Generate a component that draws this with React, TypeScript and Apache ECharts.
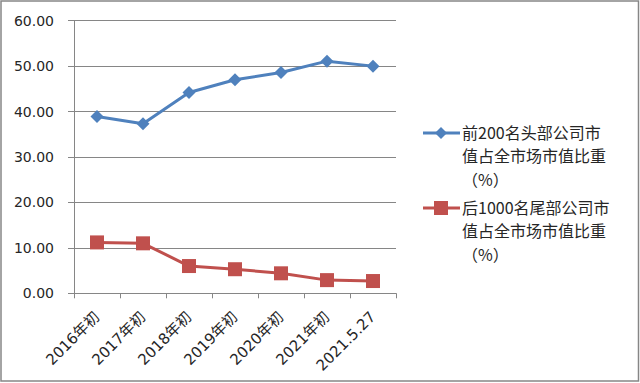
import React, { useEffect, useRef } from "react";
import * as echarts from "echarts";

const categories = ["2016年初", "2017年初", "2018年初", "2019年初", "2020年初", "2021年初", "2021.5.27"];
const headShare = [38.9, 37.3, 44.2, 47.0, 48.6, 51.1, 50.0];
const tailShare = [11.2, 11.0, 6.0, 5.3, 4.4, 2.9, 2.7];
const seriesNames = ["前200名头部公司市值占全市场市值比重（%）", "后1000名尾部公司市值占全市场市值比重（%）"];
const legendLines = [
  ["前200名头部公司市", "值占全市场市值比重", "（%）"],
  ["后1000名尾部公司市", "值占全市场市值比重", "（%）"],
];
const yTicks = [0, 10, 20, 30, 40, 50, 60];

const BLUE = "#4F81BD";
const RED = "#C0504D";
const GRID = "#868686";
const TEXT = "#262626";

export default function App() {
  const ref = useRef<HTMLDivElement>(null);
  useEffect(() => {
    if (!ref.current) return;
    const chart = echarts.init(ref.current, null, { renderer: "svg" });
    const legendGraphics: any[] = [];
    const legendTop = [133, 208];
    const colors = [BLUE, RED];
    const LH = 23.2;
    legendLines.forEach((lines, i) => {
      const y = legendTop[i];
      legendGraphics.push({
        type: "line",
        shape: { x1: 423, y1: y, x2: 460, y2: y },
        style: { stroke: colors[i], lineWidth: 3 },
      });
      if (i === 0) {
        legendGraphics.push({
          type: "polygon",
          shape: { points: [[441, y - 6], [447, y], [441, y + 6], [435, y]] },
          style: { fill: BLUE },
        });
      } else {
        legendGraphics.push({
          type: "rect",
          shape: { x: 434, y: y - 7, width: 14, height: 14 },
          style: { fill: RED },
        });
      }
      legendGraphics.push({
        type: "text",
        x: 462,
        y: y - LH / 2 - 0.8,
        style: {
          text: lines.join("\n"),
          fill: TEXT,
          font: '16px "Noto Sans CJK SC", sans-serif',
          lineHeight: LH,
          verticalAlign: "top",
          align: "left",
        },
      });
    });
    chart.setOption({
      animation: false,
      backgroundColor: "#fff",
      grid: { left: 74, right: 244, top: 20.7, bottom: 89.7, containLabel: false },
      xAxis: {
        type: "category",
        data: categories,
        boundaryGap: true,
        axisLine: { lineStyle: { color: GRID, width: 1 } },
        axisTick: { show: true, length: 5, lineStyle: { color: GRID } },
        axisLabel: {
          rotate: 45,
          margin: 21,
          color: TEXT,
          fontSize: 15,
          fontFamily: '"DejaVu Sans", "Noto Sans CJK SC", sans-serif',
        },
      },
      yAxis: {
        type: "value",
        min: 0,
        max: 60,
        interval: 10,
        axisLine: { show: true, lineStyle: { color: GRID } },
        axisTick: { show: true, length: 6, lineStyle: { color: GRID } },
        splitLine: { show: true, lineStyle: { color: GRID, width: 1 } },
        axisLabel: {
          margin: 20,
          color: TEXT,
          fontSize: 14,
          fontFamily: '"DejaVu Sans", sans-serif',
          formatter: (v: number) => (yTicks.includes(v) ? v.toFixed(2) : ""),
        },
      },
      series: [
        {
          name: seriesNames[0],
          type: "line",
          data: headShare,
          symbol: "diamond",
          symbolSize: 13,
          lineStyle: { color: BLUE, width: 3 },
          itemStyle: { color: BLUE },
        },
        {
          name: seriesNames[1],
          type: "line",
          data: tailShare,
          symbol: "rect",
          symbolSize: 14,
          lineStyle: { color: RED, width: 3 },
          itemStyle: { color: RED },
        },
      ],
      graphic: [
        {
          type: "rect",
          shape: { x: 1, y: 1, width: 637.5, height: 380 },
          style: { fill: "none", stroke: GRID, lineWidth: 1.5 },
          z: 100,
        },
        ...legendGraphics,
      ],
    });
    return () => chart.dispose();
  }, []);
  return (
    <div
      ref={ref}
      style={{ position: "fixed", left: 0, top: 0, width: 640, height: 383 }}
    />
  );
}
